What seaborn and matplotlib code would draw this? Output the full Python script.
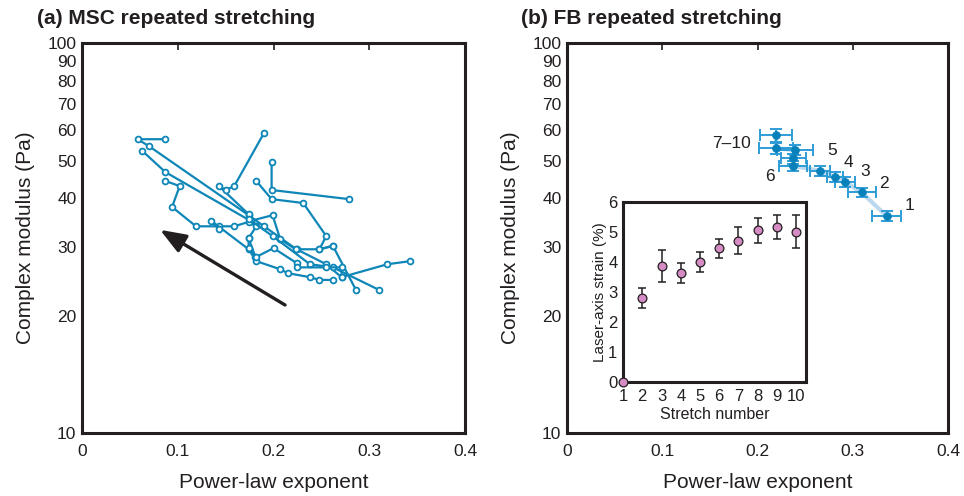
import numpy as np
import pandas as pd
import matplotlib
matplotlib.use("Agg")
import matplotlib.pyplot as plt
import seaborn as sns
from matplotlib.ticker import FixedLocator, NullFormatter, NullLocator

sns.set_theme(style="white")
plt.rcParams['font.family'] = ['Liberation Sans', 'DejaVu Sans']

# ---------------- data: panel (a) MSC tracks ----------------
msc_traces = {
    "c1": ([0.087, 0.058, 0.070, 0.174, 0.190, 0.224, 0.255, 0.271, 0.319, 0.343],
           [56.7, 56.7, 54.4, 36.2, 33.9, 29.6, 27.1, 25.1, 27.1, 27.6]),
    "c2": ([0.063, 0.087, 0.176, 0.199, 0.207, 0.223, 0.248, 0.262, 0.286],
           [52.9, 46.7, 35.0, 36.2, 31.4, 29.6, 29.6, 30.2, 23.3]),
    "c3": ([0.087, 0.102, 0.094, 0.119, 0.143, 0.159, 0.174, 0.182, 0.174, 0.181],
           [44.3, 43.0, 38.0, 33.9, 33.9, 33.9, 34.8, 33.9, 31.6, 28.3]),
    "c4": ([0.190, 0.159, 0.150, 0.143, 0.174, 0.174, 0.199, 0.238, 0.262, 0.310],
           [58.8, 43.0, 42.0, 43.0, 36.4, 35.4, 32.0, 27.1, 26.6, 23.3]),
    "c5": ([0.182, 0.198, 0.231, 0.255, 0.248, 0.262],
           [44.3, 39.8, 38.9, 32.0, 29.6, 30.2]),
    "c6": ([0.198, 0.198, 0.279],
           [49.5, 42.0, 39.8]),
    "c7": ([0.143, 0.135, 0.174, 0.182, 0.207, 0.215, 0.238, 0.248, 0.262],
           [33.3, 35.0, 29.6, 27.6, 26.3, 25.7, 25.1, 24.7, 24.7]),
    "c8": ([0.174, 0.174, 0.182, 0.200, 0.224, 0.224, 0.255, 0.271, 0.271],
           [31.6, 29.8, 28.3, 29.8, 27.3, 26.6, 26.6, 26.6, 25.1]),
}
arrow_tail = (0.212, 21.3)
arrow_head = (0.0815, 33.2)

# ---------------- data: panel (b) FB ----------------
fb_stretch = [1, 2, 3, 4, 5, 6, 7, 8, 9, 10]
fb_exponent = [0.3356, 0.3094, 0.2919, 0.2814, 0.2656, 0.2376, 0.2376, 0.2394, 0.2194, 0.2194]
fb_exponent_err = [0.0154, 0.0147, 0.0105, 0.0084, 0.0105, 0.0147, 0.013, 0.019, 0.018, 0.017]
fb_modulus = [36.0, 41.4, 44.1, 45.4, 47.1, 48.4, 50.6, 53.2, 53.7, 58.1]
fb_modulus_err = [1.1, 1.2, 1.3, 1.3, 1.4, 1.5, 1.5, 1.6, 1.6, 2.2]
fb_labels = ["1", "2", "3", "4", "5", "6", "7–10"]
fb_label_pos = [(0.3601, 38.4), (0.3328, 43.7), (0.3134, 46.8), (0.2956, 49.4),
                (0.2779, 52.9), (0.2131, 45.4), (0.1728, 55.3)]

# inset
strain_mean = [0.0, 2.8, 3.87, 3.62, 4.0, 4.45, 4.7, 5.05, 5.18, 5.0]
strain_err = [0.0, 0.33, 0.53, 0.33, 0.32, 0.32, 0.45, 0.43, 0.4, 0.55]

# ---------------- figure ----------------
fig = plt.figure(figsize=(9.64, 4.96), dpi=100)
axA = fig.add_axes([0.0851, 0.127, 0.3973, 0.786])
axB = fig.add_axes([0.5882, 0.127, 0.3952, 0.786])

line_blue = '#0E86B8'
frame_col = '#231F20'

rows = []
for name, (xs, ys) in msc_traces.items():
    for i, (x, y) in enumerate(zip(xs, ys)):
        rows.append({"cell": name, "order": i, "exponent": x, "modulus": y})
dfA = pd.DataFrame(rows)
sns.lineplot(data=dfA, x="exponent", y="modulus", units="cell", estimator=None,
             sort=False, ax=axA, color=line_blue, lw=1.6, marker='o',
             markersize=4.2, markerfacecolor='white', markeredgecolor=line_blue,
             markeredgewidth=1.3, legend=False)
axA.annotate("", xy=arrow_head, xytext=arrow_tail,
             arrowprops=dict(arrowstyle='-|>,head_length=1.3,head_width=0.5',
                             color='#231F20', lw=2.4, shrinkA=0, shrinkB=0))

# panel B
dfB = pd.DataFrame({"stretch": fb_stretch, "exponent": fb_exponent, "modulus": fb_modulus})
sns.lineplot(data=dfB, x="exponent", y="modulus", sort=False, estimator=None,
             ax=axB, color='#BCD8EE', lw=3, legend=False)
axB.errorbar(fb_exponent, fb_modulus, xerr=fb_exponent_err, yerr=fb_modulus_err,
             fmt='none', ecolor='#2E9CD6', elinewidth=1.4, capsize=4, capthick=1.4, zorder=3)
sns.scatterplot(data=dfB, x="exponent", y="modulus", ax=axB, color='#0881BA',
                s=32, edgecolor='#0881BA', linewidth=0.5, zorder=4, legend=False)
for lab, (lx, ly) in zip(fb_labels, fb_label_pos):
    axB.text(lx, ly, lab, fontsize=12.5, ha='center', va='center', color='#231F20')

yticks = [10, 20, 30, 40, 50, 60, 70, 80, 90, 100]
for ax in (axA, axB):
    ax.set_yscale('log')
    ax.set_xlim(0, 0.4)
    ax.set_ylim(10, 100)
    ax.yaxis.set_major_locator(FixedLocator(yticks))
    ax.yaxis.set_minor_locator(NullLocator())
    ax.set_yticklabels([str(t) for t in yticks])
    ax.yaxis.set_minor_formatter(NullFormatter())
    ax.set_xticks([0, 0.1, 0.2, 0.3, 0.4])
    ax.set_xticklabels(["0", "0.1", "0.2", "0.3", "0.4"])
    ax.tick_params(axis='both', which='both', direction='in', length=5, width=1.2,
                   top=True, right=False, labelsize=12.5, colors=frame_col)
    ax.tick_params(axis='x', pad=8)
    ax.tick_params(axis='y', pad=4)
    for s in ax.spines.values():
        s.set_linewidth(2.2)
        s.set_color(frame_col)
    ax.set_xlabel("Power-law exponent", fontsize=15, labelpad=10, color='#231F20')
    ax.set_ylabel("Complex modulus (Pa)", fontsize=15, labelpad=9, color='#231F20')

fig.text(0.038, 0.963, "(a) MSC repeated stretching", fontsize=15, fontweight='bold',
         ha='left', va='center', color='#231F20')
fig.text(0.540, 0.963, "(b) FB repeated stretching", fontsize=15, fontweight='bold',
         ha='left', va='center', color='#231F20')

# inset
axI = fig.add_axes([0.6463, 0.2298, 0.190, 0.363])
dfI = pd.DataFrame({"stretch": fb_stretch, "strain": strain_mean})
axI.errorbar(fb_stretch[1:], strain_mean[1:], yerr=strain_err[1:], fmt='none',
             ecolor='#231F20', elinewidth=1.1, capsize=3, capthick=1.1, zorder=3)
sns.scatterplot(data=dfI, x="stretch", y="strain", ax=axI, color='#D58BC4',
                edgecolor='#231F20', linewidth=0.9, s=40, zorder=4, clip_on=False, legend=False)
axI.set_xlim(1, 10.52)
axI.set_ylim(0, 6)
axI.set_xticks(range(1, 11))
axI.set_yticks(range(0, 7))
axI.tick_params(direction='in', length=4, width=1.1, labelsize=12, colors=frame_col)
axI.tick_params(axis='x', pad=5)
axI.tick_params(axis='y', pad=4)
for s in axI.spines.values():
    s.set_linewidth(2.2)
    s.set_color(frame_col)
axI.set_xlabel("Stretch number", fontsize=11.5, labelpad=2, color='#231F20')
axI.set_ylabel("Laser-axis strain (%)", fontsize=11, labelpad=1, color='#231F20')

fig.savefig("out.png", dpi=100)
